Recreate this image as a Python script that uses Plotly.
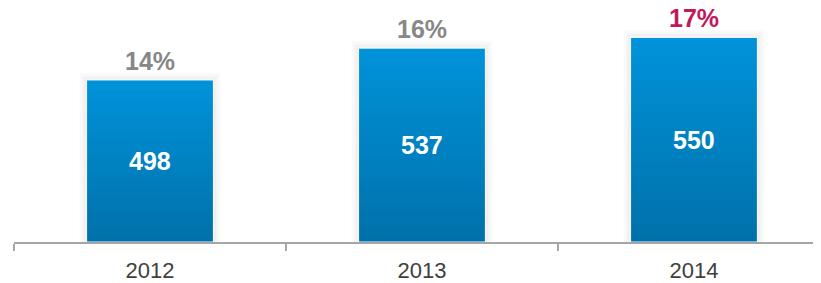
import plotly.graph_objects as go

years = ["2012", "2013", "2014"]
values = [498, 537, 550]
shares = ["14%", "16%", "17%"]
share_colors = ["#878787", "#878787", "#c2185b"]

BASE = 300       # axis floor
YTOP = 586
BAR_W = 0.467
FONT = "Liberation Sans, Arial"

fig = go.Figure()
for i, v in enumerate(values):
    x0, x1 = i - BAR_W / 2, i + BAR_W / 2
    xs = [x0, x1, x1, x0, x0]
    ys = [BASE, BASE, v, v, BASE]
    # soft shadow halo
    for w in (14, 9, 5):
        fig.add_trace(go.Scatter(x=xs, y=ys, mode="lines",
                                 line=dict(width=w, color="rgba(0,0,0,0.018)"),
                                 hoverinfo="skip", showlegend=False))
    fig.add_trace(go.Scatter(
        x=xs, y=ys, mode="lines", line=dict(width=1.2, color="rgba(255,255,255,0.9)"),
        fill="toself",
        fillgradient=dict(type="vertical", start=BASE, stop=v,
                          colorscale=[[0, "#0071aa"], [1, "#0093da"]]),
        hoverinfo="skip", showlegend=False))
    fig.add_annotation(x=i, y=(BASE + v) / 2, text=f"<b>{v}</b>", showarrow=False,
                       font=dict(family=FONT, size=25, color="white"))
    fig.add_annotation(x=i, y=v, text=f"<b>{shares[i]}</b>", showarrow=False,
                       yanchor="bottom", yshift=3,
                       font=dict(family=FONT, size=25, color=share_colors[i]))

fig.update_layout(
    width=813, height=275,
    margin=dict(l=6, r=0, t=0, b=41),
    paper_bgcolor="white", plot_bgcolor="white",
    xaxis=dict(range=[-0.5, 2.467], tickmode="array", tickvals=[0, 1, 2], ticktext=years,
               ticks="", showgrid=False, zeroline=False, automargin=False,
               showline=True, linecolor="#a6a6a6", linewidth=2, layer="above traces",
               tickfont=dict(family=FONT, size=22, color="#404040"),
               ticklabelstandoff=8,
               minor=dict(tickmode="array", tickvals=[-0.5, 0.5, 1.5, 2.5], ticks="outside",
                          ticklen=7, tickcolor="#a6a6a6", tickwidth=2, showgrid=False)),
    yaxis=dict(range=[BASE, YTOP], visible=False, showgrid=False, zeroline=False,
               automargin=False),
)
fig.write_html("out.html")
